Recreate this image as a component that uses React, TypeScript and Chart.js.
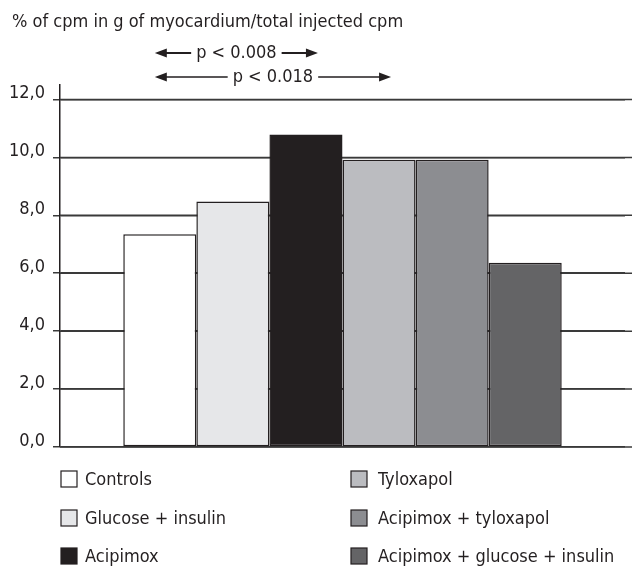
import React, { useEffect, useRef } from "react";
import { Chart, registerables } from "chart.js";

Chart.register(...registerables);

const categories = [
  "Controls",
  "Glucose + insulin",
  "Acipimox",
  "Tyloxapol",
  "Acipimox + tyloxapol",
  "Acipimox + glucose + insulin",
];
const values = [7.35, 8.48, 10.79, 9.92, 9.92, 6.36];
const colors = ["#ffffff", "#e6e7e9", "#231f20", "#bbbcc0", "#8c8d91", "#646466"];
const yTicks = [0, 2, 4, 6, 8, 10, 12];
const yTitle = "% of cpm in g of myocardium/total injected cpm";
const pLabels = ["p < 0.008", "p < 0.018"];
const pFrom = [0, 0];
const pTo = [2, 3];

const FONT = "'Liberation Sans Narrow', 'DejaVu Sans Condensed', 'Roboto Condensed', Roboto, sans-serif";
const INK = "#231f20";
const GRID = "#3a3a3a";

const gridExtend = {
  id: "gridExtend",
  beforeDatasetsDraw(chart: any) {
    const ctx = chart.ctx;
    const ys = chart.scales.y;
    ctx.save();
    ctx.strokeStyle = GRID;
    ctx.lineWidth = 1.5;
    yTicks.forEach((v) => {
      const y = ys.getPixelForValue(v);
      ctx.beginPath();
      ctx.moveTo(chart.chartArea.left, y);
      ctx.lineTo(chart.width, y);
      ctx.stroke();
    });
    ctx.restore();
  },
};

const overlay = {
  id: "overlay",
  afterDraw(chart: any) {
    const ctx = chart.ctx;
    ctx.save();
    ctx.fillStyle = INK;
    ctx.strokeStyle = INK;
    ctx.font = `18px ${FONT}`;
    ctx.textBaseline = "middle";
    ctx.textAlign = "left";
    // axis title
    ctx.fillText(yTitle, 12, 22);

    // y tick labels, sitting on their grid lines
    const ys = chart.scales.y;
    ctx.textAlign = "right";
    ctx.textBaseline = "alphabetic";
    yTicks.forEach((v) => {
      const y = ys.getPixelForValue(v);
      ctx.fillText(v.toFixed(1).replace(".", ","), 45, y - 1.5);
    });
    ctx.textAlign = "left";
    ctx.textBaseline = "middle";

    // p-value arrows
    const rowsY = [53, 77];
    const lw = [2, 1.4];
    pLabels.forEach((lab, i) => {
      const a = chart.getDatasetMeta(pFrom[i]).data[0].x - 5;
      const b = chart.getDatasetMeta(pTo[i]).data[0].x + 12;
      const y = rowsY[i];
      const w = ctx.measureText(lab).width;
      const mid = (a + b) / 2;
      const gap = 5;
      ctx.lineWidth = lw[i];
      ctx.beginPath();
      ctx.moveTo(a + 6, y);
      ctx.lineTo(mid - w / 2 - gap, y);
      ctx.moveTo(mid + w / 2 + gap, y);
      ctx.lineTo(b - 6, y);
      ctx.stroke();
      ctx.beginPath();
      ctx.moveTo(a, y);
      ctx.lineTo(a + 12, y - 4.5);
      ctx.lineTo(a + 12, y + 4.5);
      ctx.closePath();
      ctx.fill();
      ctx.beginPath();
      ctx.moveTo(b, y);
      ctx.lineTo(b - 12, y - 4.5);
      ctx.lineTo(b - 12, y + 4.5);
      ctx.closePath();
      ctx.fill();
      ctx.textAlign = "center";
      ctx.fillText(lab, mid, y);
      ctx.textAlign = "left";
    });

    // legend: column-major, 3 rows x 2 columns
    const rowY = [479, 518, 556];
    const sqX = [61, 351];
    const txX = [85, 378];
    const sz = 16;
    categories.forEach((c, i) => {
      const col = Math.floor(i / 3);
      const row = i % 3;
      const y = rowY[row];
      ctx.fillStyle = colors[i];
      ctx.fillRect(sqX[col], y - sz / 2, sz, sz);
      ctx.lineWidth = 1.2;
      ctx.strokeStyle = INK;
      ctx.strokeRect(sqX[col], y - sz / 2, sz, sz);
      ctx.fillStyle = INK;
      ctx.fillText(c, txX[col], y + 1);
    });
    ctx.restore();
  },
};

export default function App() {
  const ref = useRef<HTMLCanvasElement>(null);
  useEffect(() => {
    document.body.style.margin = "0";
    const canvas = ref.current!;
    const chart = new Chart(canvas, {
      type: "bar",
      data: {
        labels: [""],
        datasets: categories.map((c, i) => ({
          label: c,
          data: [values[i]],
          backgroundColor: colors[i],
          borderColor: INK,
          borderWidth: 1.5,
          borderSkipped: false,
          barPercentage: 1,
          categoryPercentage: 0.776,
        })),
      },
      options: {
        responsive: false,
        animation: false,
        devicePixelRatio: 1,
        layout: { padding: { top: 85, bottom: 120, left: 0, right: 7 } },
        plugins: { legend: { display: false }, tooltip: { enabled: false }, title: { display: false } },
        scales: {
          x: { display: false },
          y: {
            min: 0,
            max: 12.5,
            afterBuildTicks: (scale: any) => {
              scale.ticks = yTicks.map((v) => ({ value: v }));
            },
            afterFit: (scale: any) => {
              scale.width = 60;
            },
            ticks: { display: false },
            grid: { color: GRID, lineWidth: 1.5, tickLength: 7, drawTicks: true },
            border: { display: true, color: INK, width: 1.5 },
          },
        },
      },
      plugins: [gridExtend, overlay],
    });
    return () => chart.destroy();
  }, []);
  return <canvas ref={ref} width={632} height={567} style={{ display: "block" }} />;
}
